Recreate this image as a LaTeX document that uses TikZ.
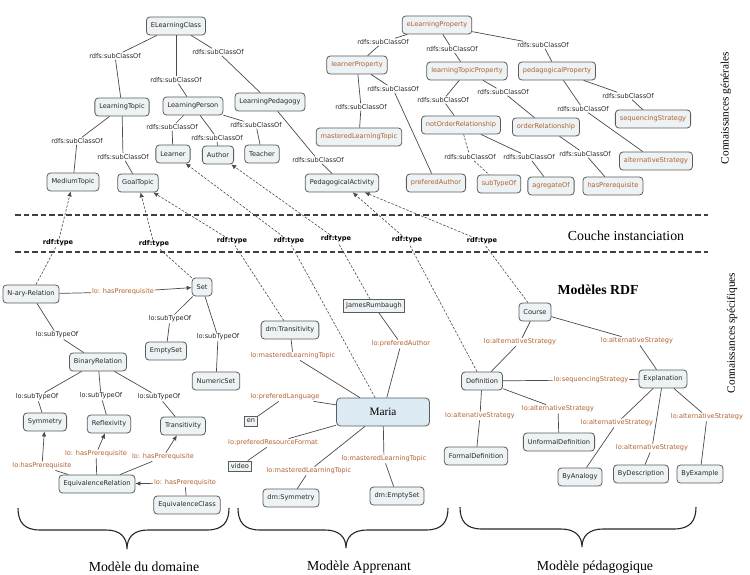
\documentclass[tikz,border=0pt]{standalone}
\usepackage{fontspec}
\setmainfont{Liberation Serif}
\newfontfamily\boxfont{DejaVu Sans}
\usetikzlibrary{arrows.meta}

\definecolor{boxfill}{HTML}{EDF2F4}
\definecolor{boxline}{HTML}{5C5C5C}
\definecolor{propcol}{HTML}{B0602F}
\definecolor{wirecol}{HTML}{4A4A4A}
\definecolor{mariafill}{HTML}{DCEAF4}

\tikzset{
  small/.style={font=\boxfont\fontsize{6.6}{7.2}\selectfont},
  cls/.style={small, draw=boxline, fill=boxfill, rounded corners=3.5pt,
    line width=0.8pt, minimum height=18pt, inner xsep=4.5pt, inner ysep=2pt,
    text=black!85},
  prp/.style={cls, text=propcol},
  sqbox/.style={small, draw=boxline, fill=boxfill, line width=0.8pt,
    inner xsep=2.5pt, inner ysep=1.5pt, minimum height=10pt, text=black!85},
  lbl/.style={small, inner sep=1pt, text=black!85},
  lbr/.style={lbl, text=propcol},
  lbt/.style={lbl, font=\boxfont\bfseries\fontsize{6.6}{7.2}\selectfont, text=black},
  wire/.style={draw=wirecol, line width=0.7pt},
  isa/.style={draw=wirecol, line width=0.6pt, dash pattern=on 2.5pt off 1.5pt},
  tip/.style={-{Latex[length=5pt,width=4.5pt]}},
  layer/.style={draw=black!75, line width=1.2pt, dash pattern=on 5.5pt off 3pt},
  brace/.style={draw=black!85, line width=1.1pt},
  title/.style={font=\fontsize{13.8}{15}\selectfont},
  side/.style={font=\fontsize{11.3}{13}\selectfont, rotate=90},
}

\begin{document}
\begin{tikzpicture}[x=1pt, y=-1pt]
\useasboundingbox (0,0) rectangle (750,575);

% ---------------- general knowledge: classes ----------------
\node[cls] (ELC)  at (176,26)  {ELearningClass};
\node[cls] (LT)   at (122,107) {LearningTopic};
\node[cls] (LP)   at (193,106) {LearningPerson};
\node[cls] (LPed) at (270,102) {LearningPedagogy};
\node[cls] (Lrn)  at (173,154) {Learner};
\node[cls] (Aut)  at (218,155) {Author};
\node[cls] (Tch)  at (262,154) {Teacher};
\node[cls] (MT)   at (73,182)  {MediumTopic};
\node[cls] (GT)   at (138,183) {GoalTopic};
\node[cls] (PA)   at (342,183) {PedagogicalActivity};

% ---------------- general knowledge: properties ----------------
\node[prp] (ELP)  at (437,25)  {eLearningProperty};
\node[prp] (LrP)  at (357,65)  {learnerProperty};
\node[prp] (LTP)  at (467,71)  {learningTopicProperty};
\node[prp] (PedP) at (557,71)  {pedagogicalProperty};
\node[prp] (MLT)  at (359,137) {masteredLearningTopic};
\node[prp] (NOR)  at (461,125) {notOrderRelationship};
\node[prp] (OR)   at (546,127) {orderRelationship};
\node[prp] (PAu)  at (436,183) {preferedAuthor};
\node[prp] (STO)  at (499,184) {subTypeOf};
\node[prp] (AGO)  at (551,186) {agregateOf};
\node[prp] (HP)   at (613,186) {hasPrerequisite};
\node[prp] (SeqS) at (653,119) {sequencingStrategy};
\node[prp] (AltS) at (656,161) {alternativeStrategy};

% subclass labels
\node[lbl] (l1)  at (115,56)  {rdfs:subClassOf};
\node[lbl] (l2)  at (176,80)  {rdfs:subClassOf};
\node[lbl] (l3)  at (218,52)  {rdfs:subClassOf};
\node[lbl] (l4)  at (77,141)  {rdfs:subClassOf};
\node[lbl] (l5)  at (123,157) {rdfs:subClassOf};
\node[lbl] (l6)  at (172,127) {rdfs:subClassOf};
\node[lbl] (l7)  at (217,138) {rdfs:subClassOf};
\node[lbl] (l8)  at (256,125) {rdfs:subClassOf};
\node[lbl] (l9)  at (318,160) {rdfs:subClassOf};
\node[lbl] (l10) at (383,42)  {rdfs:subClassOf};
\node[lbl] (l11) at (452,49)  {rdfs:subClassOf};
\node[lbl] (l12) at (543,45)  {rdfs:subClassOf};
\node[lbl] (l13) at (361,107) {rdfs:subClassOf};
\node[lbl] (l14) at (393,89)  {rdfs:subClassOf};
\node[lbl] (l15) at (443,100) {rdfs:subClassOf};
\node[lbl] (l16) at (503,92)  {rdfs:subClassOf};
\node[lbl] (l17) at (470,157) {rdfs:subClassOf};
\node[lbl] (l18) at (529,157) {rdfs:subClassOf};
\node[lbl] (l19) at (585,154) {rdfs:subClassOf};
\node[lbl] (l20) at (628,96)  {rdfs:subClassOf};
\node[lbl] (l21) at (583,109) {rdfs:subClassOf};

\foreach \a/\l/\b in {ELC/l1/LT, ELC/l2/LP, ELC/l3/LPed, LT/l4/MT, LT/l5/GT,
    LP/l6/Lrn, LP/l7/Aut, LP/l8/Tch, LPed/l9/PA, ELP/l10/LrP, ELP/l11/LTP,
    ELP/l12/PedP, LrP/l13/MLT, LrP/l14/PAu, LTP/l15/NOR, LTP/l16/OR,
    NOR/l18/AGO, OR/l19/HP, PedP/l20/SeqS, PedP/l21/AltS}
  {\draw[wire] (\a) -- (\l); \draw[wire] (\l) -- (\b);}
\draw[isa] (NOR) -- (l17);
\draw[isa] (l17) -- (STO);

% ---------------- layer separators and captions ----------------
\draw[layer] (15,215) -- (708,215);
\draw[layer] (15,252) -- (708,252);
\node[title] (couche) at (626,236) {Couche instanciation};
\node[title, font=\bfseries\fontsize{13.8}{15}\selectfont] (rdf) at (598,290) {Modèles RDF};
\node[side] (gen)  at (726,108) {Connaissances générales};
\node[side] (spec) at (732,333) {Connaissances spécifiques};

% ---------------- domain model ----------------
\node[cls] (NAR) at (31,294)  {N-ary-Relation};
\node[cls] (Set) at (202,287) {Set};
\node[cls] (ES)  at (166,351) {EmptySet};
\node[cls] (NS)  at (216,381) {NumericSet};
\node[cls] (BR)  at (98,362)  {BinaryRelation};
\node[cls] (Sym) at (45,422)  {Symmetry};
\node[cls] (Ref) at (109,424) {Reflexivity};
\node[cls] (Tra) at (183,426) {Transitivity};
\node[cls] (ER)  at (97,484)  {EquivalenceRelation};
\node[cls] (EC)  at (187,505) {EquivalenceClass};

\node[lbr] (b1)  at (123,292) {lo: hasPrerequisite};
\node[lbl] (b2)  at (57,335)  {lo:subTypeOf};
\node[lbl] (b3)  at (170,319) {lo:subTypeOf};
\node[lbl] (b4)  at (218,337) {lo:subTypeOf};
\node[lbl] (b5)  at (37,397)  {lo:subTypeOf};
\node[lbl] (b6)  at (101,396) {lo:subTypeOf};
\node[lbl] (b7)  at (159,397) {lo:subTypeOf};
\node[lbr] (b8)  at (42,466)  {lo:hasPrerequisite};
\node[lbr] (b9)  at (96,454)  {lo: hasPrerequisite};
\node[lbr] (b10) at (163,457) {lo: hasPrerequisite};
\node[lbr] (b11) at (185,483) {lo: hasPrerequisite};

\foreach \a/\l/\b in {NAR/b2/BR, Set/b3/ES, Set/b4/NS, BR/b5/Sym, BR/b6/Ref, BR/b7/Tra}
  {\draw[wire] (\a) -- (\l); \draw[wire] (\l) -- (\b);}
\foreach \a/\l/\b in {NAR/b1/Set, ER/b8/Sym, ER/b9/Ref, ER/b10/Tra, EC/b11/ER}
  {\draw[wire] (\a) -- (\l); \draw[wire, tip] (\l) -- (\b);}

% ---------------- learner model ----------------
\node[cls] (DT) at (290,330) {dm:Transitivity};
\node[sqbox, minimum height=13pt] (JR) at (374,306) {JamesRumbaugh};
\node[draw=boxline, fill=mariafill, rounded corners=4pt, line width=0.8pt,
      minimum width=93pt, minimum height=28pt, font=\fontsize{11.3}{13}\selectfont]
      (Maria) at (383,412) {Maria};
\node[sqbox] (en)    at (251,421) {en};
\node[sqbox] (video) at (240,466) {video};
\node[cls] (DS) at (291,498) {dm:Symmetry};
\node[cls] (DE) at (397,496) {dm:EmptySet};

\node[lbr] (m1) at (293,356) {lo:masteredLearningTopic};
\node[lbr] (m2) at (401,344) {lo:preferedAuthor};
\node[lbr] (m3) at (285,397) {lo:preferedLanguage};
\node[lbr] (m4) at (273,443) {lo:preferedResourceFormat};
\node[lbr] (m5) at (309,471) {lo:masteredLearningTopic};
\node[lbr] (m6) at (384,459) {lo:masteredLearningTopic};

\foreach \a/\l/\b in {DT/m1/Maria, JR/m2/Maria, Maria/m3/en, Maria/m4/video,
    Maria/m5/DS, Maria/m6/DE}
  {\draw[wire] (\a) -- (\l); \draw[wire] (\l) -- (\b);}

% ---------------- pedagogical model ----------------
\node[cls] (Crs) at (535,312) {Course};
\node[cls] (Def) at (482,381) {Definition};
\node[cls] (Exp) at (663,379) {Explanation};
\node[cls] (FD)  at (476,456) {FormalDefinition};
\node[cls] (UD)  at (559,442) {UnformalDefinition};
\node[cls] (BA)  at (580,477) {ByAnalogy};
\node[cls] (BD)  at (641,474) {ByDescription};
\node[cls] (BE)  at (700,474) {ByExample};

\node[lbr] (r1) at (520,342) {lo:alternativeStrategy};
\node[lbr] (r2) at (637,341) {lo:alternativeStrategy};
\node[lbr] (r3) at (591,380) {lo:sequencingStrategy};
\node[lbr] (r4) at (480,416) {lo:altenativeStrategy};
\node[lbr] (r5) at (558,409) {lo:alternativeStrategy};
\node[lbr] (r6) at (617,423) {lo:alternativeStrategy};
\node[lbr] (r7) at (652,448) {lo:alternativeStrategy};
\node[lbr] (r8) at (707,417) {lo:alternativeStrategy};

\foreach \a/\l/\b in {Crs/r1/Def, Crs/r2/Exp, Def/r3/Exp, Def/r4/FD, Def/r5/UD,
    Exp/r6/BA, Exp/r7/BD, Exp/r8/BE}
  {\draw[wire] (\a) -- (\l); \draw[wire] (\l) -- (\b);}

% ---------------- instanciation links ----------------
\node[lbt] (t1) at (58,243)  {rdf:type};
\node[lbt] (t2) at (154,244) {rdf:type};
\node[lbt] (t3) at (232,241) {rdf:type};
\node[lbt] (t4) at (289,241) {rdf:type};
\node[lbt] (t5) at (336,239) {rdf:type};
\node[lbt] (t6) at (407,240) {rdf:type};
\node[lbt] (t7) at (482,241) {rdf:type};

\foreach \i/\l/\c in {NAR/t1/MT, Set/t2/GT, DT/t3/GT, Maria/t4/Lrn,
    JR/t5/Aut, Def/t6/PA, Crs/t7/PA}
  {\draw[isa] (\i) -- (\l); \draw[isa, tip] (\l) -- (\c);}

% ---------------- braces and model names ----------------
\draw[brace] (18,508) .. controls (18,522) and (24,530) .. (40,530) -- (106,530)
  .. controls (120,530) and (127,537) .. (127,549)
  .. controls (127,537) and (134,530) .. (148,530) -- (207,530)
  .. controls (223,530) and (229,522) .. (229,508);
\draw[brace] (238,508) .. controls (238,522) and (244,530) .. (260,530) -- (325,530)
  .. controls (339,530) and (346,537) .. (346,548)
  .. controls (346,537) and (353,530) .. (367,530) -- (426,530)
  .. controls (442,530) and (448,522) .. (448,508);
\draw[brace] (460,507) .. controls (460,521) and (466,529) .. (482,529) -- (561,529)
  .. controls (575,529) and (582,536) .. (582,547)
  .. controls (582,536) and (589,529) .. (603,529) -- (674,529)
  .. controls (690,529) and (696,521) .. (696,507);
\node[title] (dom) at (144,567) {Modèle du domaine};
\node[title] (app) at (359,567) {Modèle Apprenant};
\node[title] (ped) at (595,567) {Modèle pédagogique};
\end{tikzpicture}
\end{document}
